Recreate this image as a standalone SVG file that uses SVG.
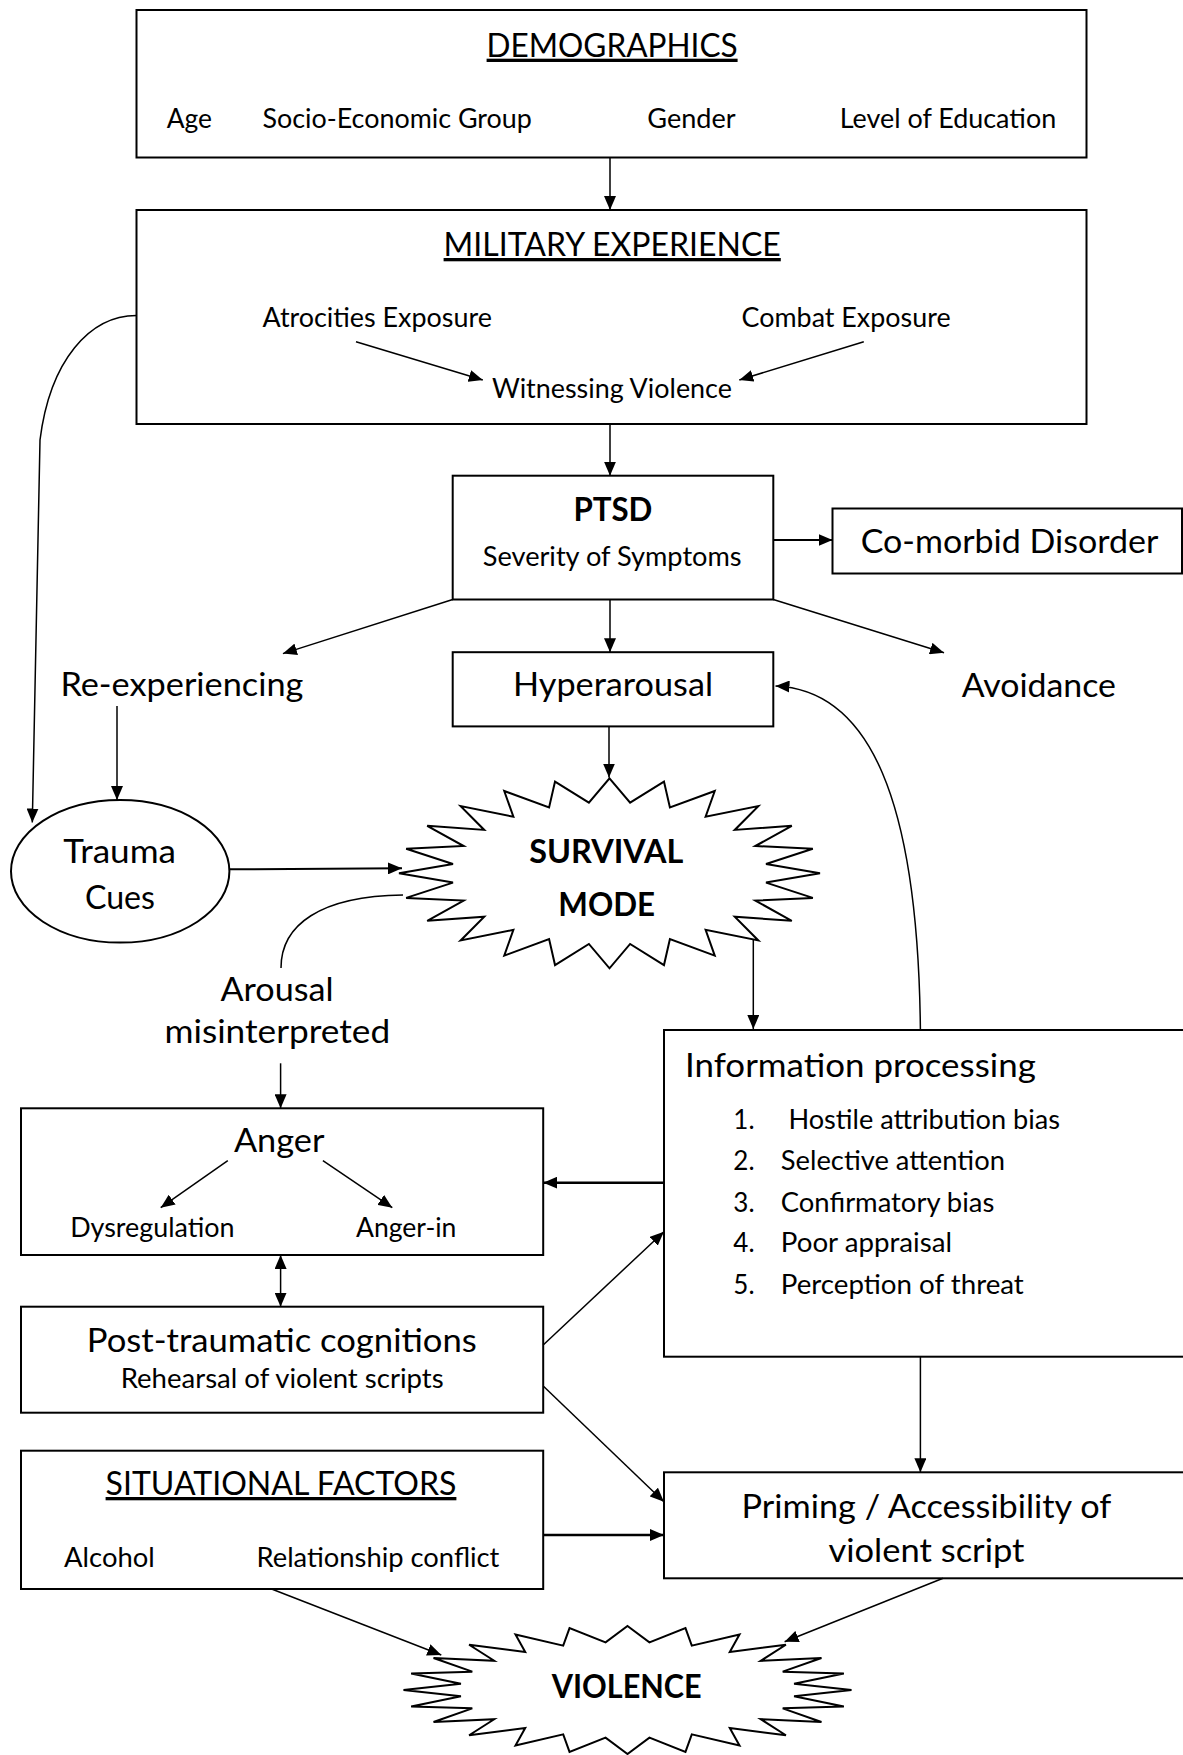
<svg xmlns="http://www.w3.org/2000/svg" xmlns:xlink="http://www.w3.org/1999/xlink" width="1183" height="1755" viewBox="0 0 1183 1755">
<style>
.box{fill:#fff;stroke:#000;stroke-width:2}
.star{fill:#fff;stroke:#000;stroke-width:2;vector-effect:non-scaling-stroke}
.t{font-family:Lato,'Liberation Sans',sans-serif;fill:#000}
.s{font-size:26px}
.b{font-size:33px}
.bold{font-weight:700}
.u{text-decoration:underline}
.c{fill:none;stroke:#000;stroke-width:1.5}
.k{stroke-width:2.5}
.m{stroke-width:2}
</style>
<defs>
<marker id="ah" markerUnits="userSpaceOnUse" viewBox="0 0 14 12" markerWidth="14" markerHeight="12" refX="14" refY="6" orient="auto"><path d="M0,0 L14,6 L0,12 Z" fill="#000"/></marker>
<marker id="ah2" markerUnits="userSpaceOnUse" viewBox="0 0 14 12" markerWidth="14" markerHeight="12" refX="14" refY="6" orient="auto-start-reverse"><path d="M0,0 L14,6 L0,12 Z" fill="#000"/></marker>
<polygon id="star24" class="star" points="0,-100 9.79,-74.36 25.88,-96.59 28.70,-69.29 50,-86.60 45.66,-59.50 70.71,-70.71 59.50,-45.66 86.60,-50 69.29,-28.70 96.59,-25.88 74.36,-9.79 100,0 74.36,9.79 96.59,25.88 69.29,28.70 86.60,50 59.50,45.66 70.71,70.71 45.66,59.50 50,86.60 28.70,69.29 25.88,96.59 9.79,74.36 0,100 -9.79,74.36 -25.88,96.59 -28.70,69.29 -50,86.60 -45.66,59.50 -70.71,70.71 -59.50,45.66 -86.60,50 -69.29,28.70 -96.59,25.88 -74.36,9.79 -100,0 -74.36,-9.79 -96.59,-25.88 -69.29,-28.70 -86.60,-50 -59.50,-45.66 -70.71,-70.71 -45.66,-59.50 -50,-86.60 -28.70,-69.29 -25.88,-96.59 -9.79,-74.36"/>
</defs>
<rect x="0" y="0" width="1183" height="1755" fill="#fff"/>

<g id="demographics">
<rect class="box" x="136.5" y="10" width="950" height="147.5"/>
<text class="t b u" x="486.6" y="56.7" textLength="251" lengthAdjust="spacingAndGlyphs">DEMOGRAPHICS</text>
<text class="t s" x="166.7" y="127.7" textLength="45.3" lengthAdjust="spacingAndGlyphs">Age</text>
<text class="t s" x="262.5" y="127.7" textLength="269.4" lengthAdjust="spacingAndGlyphs">Socio-Economic Group</text>
<text class="t s" x="647.3" y="127.7" textLength="88.3" lengthAdjust="spacingAndGlyphs">Gender</text>
<text class="t s" x="839.7" y="127.7" textLength="216.5" lengthAdjust="spacingAndGlyphs">Level of Education</text>
</g>

<g id="military-experience">
<rect class="box" x="136.5" y="210" width="950" height="214"/>
<text class="t b u" x="443.6" y="256" textLength="337.2" lengthAdjust="spacingAndGlyphs">MILITARY EXPERIENCE</text>
<text class="t s" x="262.5" y="326.7" textLength="229.4" lengthAdjust="spacingAndGlyphs">Atrocities Exposure</text>
<text class="t s" x="741.6" y="326.7" textLength="209" lengthAdjust="spacingAndGlyphs">Combat Exposure</text>
<text class="t s" x="491.9" y="398.3" textLength="240" lengthAdjust="spacingAndGlyphs">Witnessing Violence</text>
</g>

<g id="ptsd">
<rect class="box" x="452.7" y="475.7" width="320.6" height="123.8"/>
<text class="t b bold" x="573.4" y="521.4" textLength="79" lengthAdjust="spacingAndGlyphs">PTSD</text>
<text class="t s" x="482.8" y="565.7" textLength="258.8" lengthAdjust="spacingAndGlyphs">Severity of Symptoms</text>
</g>

<g id="comorbid-disorder">
<rect class="box" x="832.5" y="508.5" width="349.5" height="65"/>
<text class="t b" x="860.7" y="553.3" textLength="297.6" lengthAdjust="spacingAndGlyphs">Co-morbid Disorder</text>
</g>

<g id="re-experiencing">
<text class="t b" x="60.4" y="696.4" textLength="243" lengthAdjust="spacingAndGlyphs">Re-experiencing</text>
</g>

<g id="hyperarousal">
<rect class="box" x="452.7" y="652.2" width="320.6" height="74.2"/>
<text class="t b" x="513" y="696.4" textLength="200" lengthAdjust="spacingAndGlyphs">Hyperarousal</text>
</g>

<g id="avoidance">
<text class="t b" x="961.7" y="696.7" textLength="154.3" lengthAdjust="spacingAndGlyphs">Avoidance</text>
</g>

<g id="trauma-cues">
<ellipse class="box" cx="120.2" cy="871.3" rx="109.2" ry="71.3"/>
<text class="t b" x="63.3" y="863.3" textLength="112.7" lengthAdjust="spacingAndGlyphs">Trauma</text>
<text class="t b" x="85" y="909.3" textLength="70" lengthAdjust="spacingAndGlyphs">Cues</text>
</g>

<g id="survival-mode">
<use xlink:href="#star24" href="#star24" transform="translate(609.5,873.3) scale(2.105,0.95)"/>
<text class="t b bold" x="529.3" y="863.3" textLength="154" lengthAdjust="spacingAndGlyphs">SURVIVAL</text>
<text class="t b bold" x="558.3" y="916" textLength="96.7" lengthAdjust="spacingAndGlyphs">MODE</text>
</g>

<g id="arousal-misinterpreted">
<text class="t b" x="220.5" y="1001" textLength="113" lengthAdjust="spacingAndGlyphs">Arousal</text>
<text class="t b" x="164.5" y="1043.3" textLength="225.6" lengthAdjust="spacingAndGlyphs">misinterpreted</text>
</g>

<g id="information-processing">
<rect class="box" x="664" y="1030" width="530" height="326.7"/>
<text class="t b" x="685" y="1077.3" textLength="350.8" lengthAdjust="spacingAndGlyphs">Information processing</text>
<text class="t s" x="733.3" y="1129.3">1.</text>
<text class="t s" x="788.4" y="1129.3" textLength="271.6" lengthAdjust="spacingAndGlyphs">Hostile attribution bias</text>
<text class="t s" x="733.3" y="1170">2.</text>
<text class="t s" x="780.8" y="1170" textLength="224.1" lengthAdjust="spacingAndGlyphs">Selective attention</text>
<text class="t s" x="733.3" y="1211.7">3.</text>
<text class="t s" x="780.8" y="1211.7" textLength="213.5" lengthAdjust="spacingAndGlyphs">Confirmatory bias</text>
<text class="t s" x="733.3" y="1252.3">4.</text>
<text class="t s" x="780.8" y="1252.3" textLength="171.2" lengthAdjust="spacingAndGlyphs">Poor appraisal</text>
<text class="t s" x="733.3" y="1294">5.</text>
<text class="t s" x="780.8" y="1294" textLength="243" lengthAdjust="spacingAndGlyphs">Perception of threat</text>
</g>

<g id="anger">
<rect class="box" x="21" y="1108.3" width="522.2" height="146.7"/>
<text class="t b" x="233.9" y="1151.7" textLength="90.5" lengthAdjust="spacingAndGlyphs">Anger</text>
<text class="t s" x="70.2" y="1236.7" textLength="164.4" lengthAdjust="spacingAndGlyphs">Dysregulation</text>
<text class="t s" x="356" y="1236.7" textLength="100.4" lengthAdjust="spacingAndGlyphs">Anger-in</text>
</g>

<g id="post-traumatic-cognitions">
<rect class="box" x="21" y="1306.7" width="522.2" height="106"/>
<text class="t b" x="86.8" y="1351.7" textLength="390" lengthAdjust="spacingAndGlyphs">Post-traumatic cognitions</text>
<text class="t s" x="120.7" y="1388.3" textLength="322.9" lengthAdjust="spacingAndGlyphs">Rehearsal of violent scripts</text>
</g>

<g id="situational-factors">
<rect class="box" x="21" y="1450.7" width="522.2" height="138.3"/>
<text class="t b u" x="105.6" y="1495" textLength="350.8" lengthAdjust="spacingAndGlyphs">SITUATIONAL FACTORS</text>
<text class="t s" x="64.1" y="1566.7" textLength="90.6" lengthAdjust="spacingAndGlyphs">Alcohol</text>
<text class="t s" x="256.5" y="1566.7" textLength="242.9" lengthAdjust="spacingAndGlyphs">Relationship conflict</text>
</g>

<g id="priming">
<rect class="box" x="664" y="1472.3" width="530" height="106"/>
<text class="t b" x="741.6" y="1518.3" textLength="369.7" lengthAdjust="spacingAndGlyphs">Priming / Accessibility of</text>
<text class="t b" x="828.4" y="1561.7" textLength="196.1" lengthAdjust="spacingAndGlyphs">violent script</text>
</g>

<g id="violence">
<use xlink:href="#star24" href="#star24" transform="translate(627.5,1690) scale(2.24,0.64)"/>
<text class="t b bold" x="551.7" y="1698.3" textLength="150" lengthAdjust="spacingAndGlyphs">VIOLENCE</text>
</g>

<g id="connectors">
<path class="c" d="M610,158 L610,210" marker-end="url(#ah)"/>
<path class="c" d="M356,341.7 L482.8,380" marker-end="url(#ah)"/>
<path class="c" d="M863.8,341.7 L739.3,380" marker-end="url(#ah)"/>
<path class="c" d="M610,424 L610,475.7" marker-end="url(#ah)"/>
<path class="c" d="M136.5,315.5 C90,315.5 50,360 40,440 L32.3,822.5" marker-end="url(#ah)"/>
<path class="c m" d="M773.3,540 L832.5,540" marker-end="url(#ah)"/>
<path class="c" d="M452.7,599.5 L282.9,653.6" marker-end="url(#ah)"/>
<path class="c" d="M773.3,599.5 L944,652.7" marker-end="url(#ah)"/>
<path class="c" d="M610,599.5 L610,652.2" marker-end="url(#ah)"/>
<path class="c" d="M117,706 L117,800" marker-end="url(#ah)"/>
<path class="c" d="M609,726.4 L609,777.5" marker-end="url(#ah)"/>
<path class="c m" d="M229.3,869.3 L402,868.3" marker-end="url(#ah)"/>
<path class="c" d="M281,968 C281,925 320,896 403,895"/>
<path class="c" d="M753.3,940 L753.3,1029" marker-end="url(#ah)"/>
<path class="c" d="M920.4,1030 C918,800 870,690 775.5,686" marker-end="url(#ah)"/>
<path class="c" d="M280.6,1063.3 L280.6,1108.3" marker-end="url(#ah)"/>
<path class="c" d="M227.8,1160.7 L160.7,1207.7" marker-end="url(#ah)"/>
<path class="c" d="M322.9,1160.7 L392.3,1207.7" marker-end="url(#ah)"/>
<path class="c k" d="M664,1182.7 L543.2,1182.7" marker-end="url(#ah)"/>
<path class="c" d="M280.6,1255 L280.6,1306.7" marker-start="url(#ah2)" marker-end="url(#ah2)"/>
<path class="c" d="M543.2,1345 L663.9,1231.7" marker-end="url(#ah)"/>
<path class="c" d="M543.2,1386 L663.9,1501.7" marker-end="url(#ah)"/>
<path class="c" d="M920.4,1356.7 L920.4,1472.3" marker-end="url(#ah)"/>
<path class="c k" d="M543.2,1535 L664,1535" marker-end="url(#ah)"/>
<path class="c" d="M271.6,1589 L441.3,1655" marker-end="url(#ah)"/>
<path class="c" d="M943,1578.3 L784.6,1641.7" marker-end="url(#ah)"/>
</g>
</svg>
